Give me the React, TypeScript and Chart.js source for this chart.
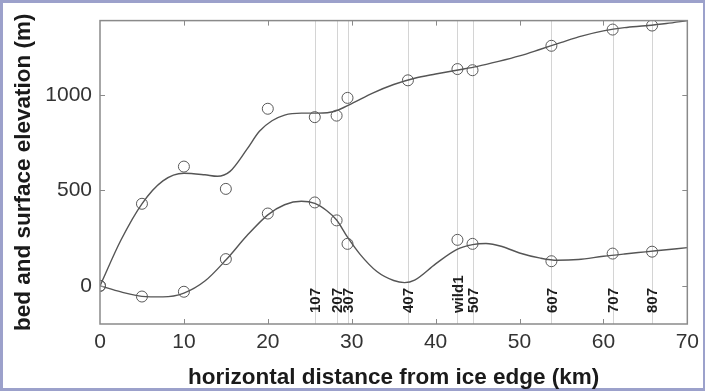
import React, { useEffect, useRef } from 'react';
import { Chart, registerables } from 'chart.js';

Chart.register(...registerables);

// Station positions (km from ice edge) and names
const stationKm = [25.6, 28.2, 29.5, 36.7, 42.6, 44.4, 53.8, 61.1, 65.8];
const stationNames = ['107', '207', '307', '407', 'wild1', '507', '607', '707', '807'];

// Observed surface elevation (circles)
const surfaceObsKm = [0, 5, 10, 15, 20, 25.6, 28.2, 29.5, 36.7, 42.6, 44.4, 53.8, 61.1, 65.8];
const surfaceObs = [0, 430, 625, 508, 928, 884, 892, 985, 1077, 1136, 1130, 1258, 1343, 1364];

// Observed bed elevation (circles)
const bedObsKm = [0, 5, 10, 15, 20, 25.6, 28.2, 29.5, 42.6, 44.4, 53.8, 61.1, 65.8];
const bedObs = [0, -56, -31, 140, 379, 437, 343, 220, 241, 220, 129, 169, 179];

// Smoothed surface profile (line)
const surfaceFitKm = [0, 2.5, 5, 7.5, 10, 12.5, 14, 15.5, 17.5, 19, 20.5, 22, 24, 26, 28, 30, 32.5, 35, 37.5, 40, 42.5, 45, 47.5, 50, 52.5, 55, 57.5, 60, 62.5, 65, 67.5, 70];
const surfaceFit = [0, 240, 430, 550, 590, 582, 574, 600, 715, 810, 865, 895, 905, 905, 915, 955, 1010, 1055, 1088, 1110, 1130, 1150, 1176, 1205, 1240, 1276, 1310, 1336, 1353, 1363, 1375, 1390];

// Smoothed bed profile (line)
const bedFitKm = [0, 2.5, 5, 7.5, 10, 12.5, 15, 17.5, 20, 22, 24, 25.6, 27, 28.2, 29.5, 31, 33, 35, 36.3, 37.5, 40, 42.5, 44.4, 46, 48, 50, 52.5, 54.5, 57, 60, 62.5, 65, 67.5, 70];
const bedFit = [0, -32, -55, -58, -38, 25, 135, 262, 372, 425, 443, 432, 395, 345, 255, 165, 75, 28, 17, 30, 115, 190, 216, 222, 205, 172, 145, 134, 138, 155, 167, 178, 189, 200];

const yTicks = [0, 500, 1000];
const xMin = 0;
const xMax = 70;
const xStep = 10;
const yMin = -200;
const yMax = 1390;

const FONT = '"Liberation Sans", Arial, sans-serif';

const toPoints = (xs: number[], ys: number[]) => xs.map((x, i) => ({ x, y: ys[i] }));

const framePlugin = {
  id: 'frame',
  beforeDraw(chart: any) {
    const { ctx, width, height } = chart;
    ctx.save();
    ctx.fillStyle = '#9ca1cb';
    ctx.fillRect(0, 0, width, height);
    ctx.fillStyle = '#ffffff';
    ctx.fillRect(3, 3, width - 5, height - 6);
    ctx.restore();
  },
  beforeDatasetsDraw(chart: any) {
    const { ctx, chartArea, scales } = chart;
    ctx.save();
    ctx.strokeStyle = '#d4d4d4';
    ctx.lineWidth = 1;
    stationKm.forEach((km) => {
      const x = Math.round(scales.x.getPixelForValue(km)) + 0.5;
      ctx.beginPath();
      ctx.moveTo(x, chartArea.top);
      ctx.lineTo(x, chartArea.bottom);
      ctx.stroke();
    });
    ctx.restore();
  },
  afterDatasetsDraw(chart: any) {
    const { ctx, chartArea, scales } = chart;
    const { left, right, top, bottom } = chartArea;
    ctx.save();
    // station labels
    ctx.fillStyle = '#1e1e1e';
    ctx.font = `bold 15px ${FONT}`;
    ctx.textAlign = 'left';
    ctx.textBaseline = 'middle';
    stationKm.forEach((km, i) => {
      const x = scales.x.getPixelForValue(km);
      ctx.save();
      ctx.translate(x + 1, bottom - 11);
      ctx.rotate(-Math.PI / 2);
      ctx.fillText(stationNames[i], 0, 0);
      ctx.restore();
    });
    // axes box
    ctx.strokeStyle = '#8a8a8a';
    ctx.lineWidth = 1.5;
    ctx.strokeRect(left, top, right - left, bottom - top);
    // inward tick marks
    const tl = 5;
    ctx.lineWidth = 1;
    ctx.beginPath();
    scales.x.ticks.forEach((t: any) => {
      if (t.value <= xMin || t.value >= xMax) return;
      const x = Math.round(scales.x.getPixelForValue(t.value)) + 0.5;
      ctx.moveTo(x, bottom);
      ctx.lineTo(x, bottom - tl);
      ctx.moveTo(x, top);
      ctx.lineTo(x, top + tl);
    });
    scales.y.ticks.forEach((t: any) => {
      const y = Math.round(scales.y.getPixelForValue(t.value)) + 0.5;
      ctx.moveTo(left, y);
      ctx.lineTo(left + tl, y);
      ctx.moveTo(right, y);
      ctx.lineTo(right - tl, y);
    });
    ctx.stroke();
    ctx.restore();
  },
};

export default function App() {
  const canvasRef = useRef<HTMLCanvasElement | null>(null);

  useEffect(() => {
    if (!canvasRef.current) return;
    const lineStyle = {
      borderColor: '#555555',
      borderWidth: 1.4,
      pointRadius: 0,
      showLine: true,
      cubicInterpolationMode: 'monotone' as const,
      fill: false,
    };
    const pointStyle = {
      showLine: false,
      pointRadius: 5.5,
      pointBorderWidth: 1,
      pointBorderColor: '#5a5a5a',
      pointBackgroundColor: 'rgba(0,0,0,0)',
      borderColor: '#5a5a5a',
      backgroundColor: 'rgba(0,0,0,0)',
    };
    const chart = new Chart(canvasRef.current, {
      type: 'scatter',
      data: {
        datasets: [
          { label: 'surface fit', data: toPoints(surfaceFitKm, surfaceFit), ...lineStyle },
          { label: 'bed fit', data: toPoints(bedFitKm, bedFit), ...lineStyle },
          { label: 'surface', data: toPoints(surfaceObsKm, surfaceObs), ...pointStyle },
          { label: 'bed', data: toPoints(bedObsKm, bedObs), ...pointStyle },
        ],
      },
      options: {
        animation: false,
        responsive: false,
        maintainAspectRatio: false,
        layout: { padding: { left: 0, right: 17, top: 14, bottom: 0 } },
        plugins: {
          legend: { display: false },
          tooltip: { enabled: false },
        },
        scales: {
          x: {
            type: 'linear',
            min: xMin,
            max: xMax,
            grid: { display: false, drawTicks: false },
            border: { display: false },
            ticks: {
              stepSize: xStep,
              padding: 6,
              color: '#333',
              font: { family: FONT, size: 21 },
              callback: (v: any) => String(v),
            },
            title: {
              display: true,
              text: 'horizontal distance from ice edge (km)',
              color: '#1a1a1a',
              font: { family: FONT, size: 22.5, weight: 'bold' },
              padding: { top: 0, bottom: 0 },
            },
            afterFit(scale: any) {
              scale.height = 67;
            },
          },
          y: {
            type: 'linear',
            min: yMin,
            max: yMax,
            grid: { display: false, drawTicks: false },
            border: { display: false },
            afterBuildTicks(scale: any) {
              scale.ticks = yTicks.map((v) => ({ value: v }));
            },
            ticks: {
              padding: 8,
              color: '#333',
              font: { family: FONT, size: 21 },
              callback: (v: any) => String(v),
            },
            title: {
              display: true,
              text: 'bed and surface elevation (m)',
              color: '#1a1a1a',
              font: { family: FONT, size: 22.5, weight: 'bold' },
              padding: { top: 10, bottom: 0 },
            },
            afterFit(scale: any) {
              scale.width = 100;
            },
          },
        },
      },
      plugins: [framePlugin],
    });
    return () => chart.destroy();
  }, []);

  return (
    <div style={{ position: 'fixed', left: 0, top: 0, width: 705, height: 391 }}>
      <canvas ref={canvasRef} width={705} height={391} style={{ display: 'block' }} />
    </div>
  );
}
